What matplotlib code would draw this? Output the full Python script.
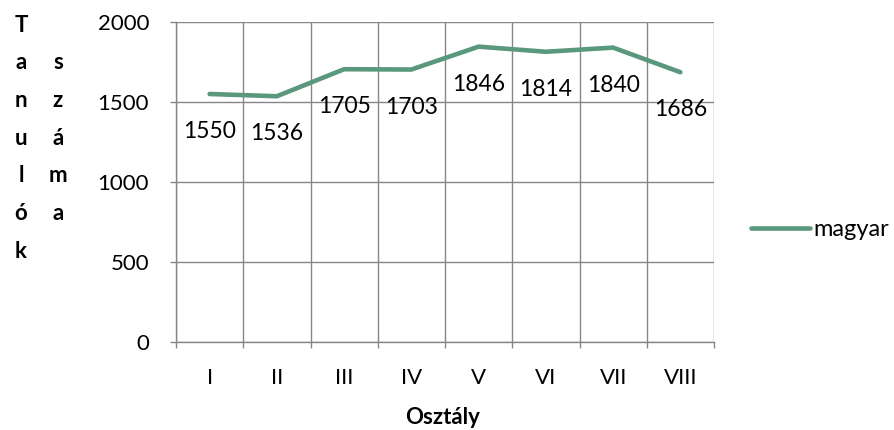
import numpy as np
import matplotlib.pyplot as plt

plt.rcParams['font.family'] = ['Lato', 'DejaVu Sans']

categories = ["I", "II", "III", "IV", "V", "VI", "VII", "VIII"]
values = [1550, 1536, 1705, 1703, 1846, 1814, 1840, 1686]
series_name = "magyar"
ylabel_words = ["Tanulók", "száma"]
xlabel = "Osztály"

LINE = "#5A987E"
GRID = "#868686"

W, H = 895, 430
fig = plt.figure(figsize=(W / 100, H / 100), dpi=100)
ax = fig.add_axes([176 / W, 1 - 342 / H, (714 - 176) / W, (342 - 22) / H])

x = np.arange(len(categories))
ln, = ax.plot(x, values, color=LINE, linewidth=3.3, solid_capstyle='round',
              solid_joinstyle='round', zorder=3, label=series_name)
for xi, v in zip(x, values):
    ax.annotate(f"{v}", (xi, v), xytext=(0, -27), textcoords='offset points',
                ha='center', va='center', fontsize=16.5, color='black', zorder=4)

ax.set_xlim(-0.5, len(categories) - 0.5)
ax.set_ylim(0, 2000)
ax.set_yticks(np.arange(0, 2001, 500))
ax.set_xticks(np.arange(-0.5, len(categories)), minor=False)
ax.set_xticklabels([])
ax.set_xticks(x, minor=True)
ax.set_xticklabels(categories, minor=True)
ax.tick_params(axis='x', which='major', length=4.3, color=GRID, width=1)
ax.tick_params(axis='x', which='minor', length=0, pad=19, labelsize=16)
ax.tick_params(axis='y', length=4.3, color=GRID, width=1, pad=15, labelsize=16)

ax.grid(True, which='major', color=GRID, linewidth=1)
ax.set_axisbelow(True)
for sp in ("top", "right"):
    ax.spines[sp].set_visible(False)
for sp in ("left", "bottom"):
    ax.spines[sp].set_color(GRID)
    ax.spines[sp].set_linewidth(1)

fig.text(443 / W, 1 - 417 / H, xlabel, ha='center', va='center',
         fontsize=16, fontweight='bold')

col_x = [21, 58]
row_y0, row_dy = 25, 37.7
for ci, word in enumerate(ylabel_words):
    for ri, ch in enumerate(word):
        fig.text(col_x[ci] / W, 1 - (row_y0 + (ri + ci) * row_dy) / H, ch,
                 ha='center', va='center', fontsize=16, fontweight='bold')

fig.legend(handles=[ln], loc='center left', bbox_to_anchor=(751 / W, 1 - 230 / H),
           frameon=False, fontsize=17, handlelength=2.5, handletextpad=0.15,
           borderaxespad=0, borderpad=0)

fig.savefig("out.png", dpi=100)
